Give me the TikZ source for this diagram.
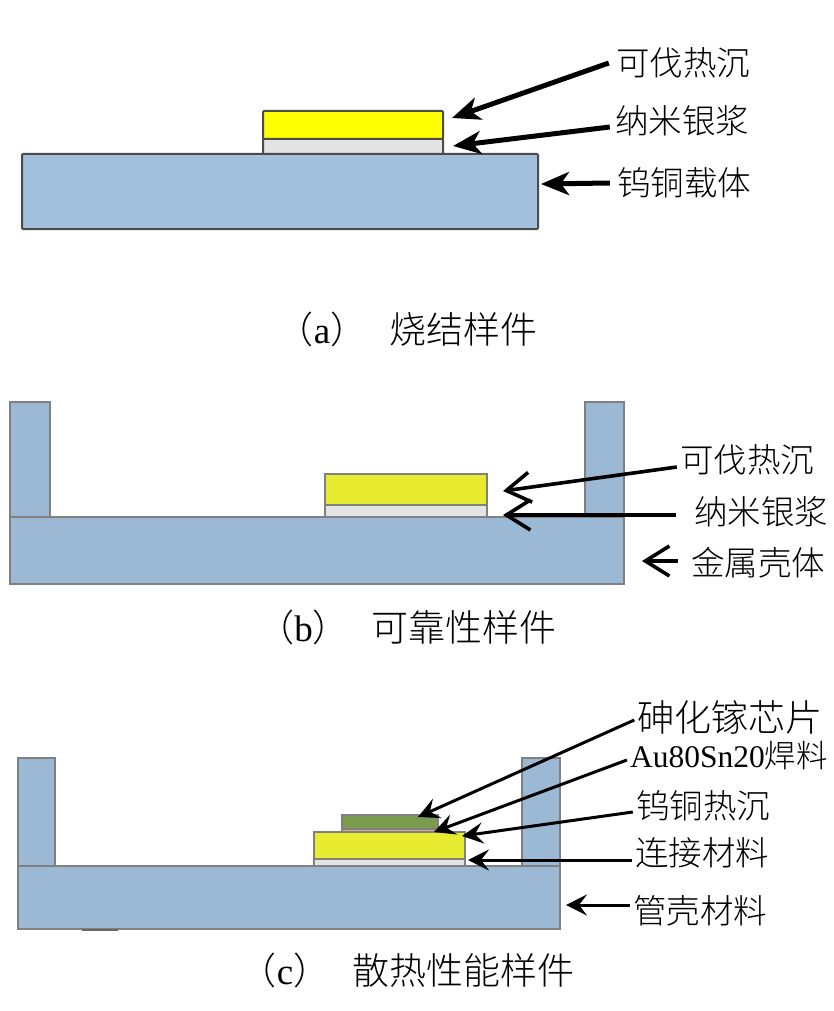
\documentclass[tikz,border=0pt]{standalone}
\usepackage{fontspec}
\usepackage{tikz}
\usetikzlibrary{arrows.meta,positioning}
\setmainfont{Liberation Serif}
\newfontfamily\cjk{Noto Sans CJK SC}[UprightFont=* Light]
\definecolor{carrierblue}{HTML}{A3C0DC}
\definecolor{shellblue}{HTML}{9BB8D4}
\definecolor{pureyellow}{HTML}{FFFF00}
\definecolor{softyellow}{HTML}{E8EC30}
\definecolor{pastegray}{HTML}{E4E4E4}
\definecolor{chipgreen}{HTML}{7A9C4E}
\definecolor{solderpink}{HTML}{E0A98C}
\tikzset{
  layerA/.style={draw=black!70,line width=2pt,rounded corners=1pt,inner sep=0pt},
  layerB/.style={draw=black!50,line width=1.2pt,inner sep=0pt},
  label/.style={font=\fontsize{33.5}{36}\selectfont\cjk,inner xsep=3pt,inner ysep=0pt},
  caption/.style={font=\fontsize{37}{40}\selectfont\cjk,inner sep=0pt},
  arrowA/.style={-{Stealth[length=28pt,width=23pt,inset=8pt]},line width=5pt},
  arrowB/.style={-{Straight Barb[length=24pt,width=30pt,line width=3.6pt]},line width=3.6pt},
  arrowC/.style={-{Stealth[length=21pt,width=21pt,inset=8pt]},line width=3pt}
}
\begin{document}
\begin{tikzpicture}[x=1pt,y=-1pt]
  \useasboundingbox (0,0) rectangle (834,1011);
  % (a)
  \node[layerA,fill=carrierblue,minimum width=516pt,minimum height=75pt] (carrierA) at (280,191.5) {};
  \node[layerA,fill=pastegray,minimum width=180pt,minimum height=15pt] (pasteA) at (353,146.5) {};
  \node[layerA,fill=pureyellow,minimum width=180pt,minimum height=28pt] (kovarA) at (353,125) {};
  \node[label] (lblKovarA) at (683,63) {可伐热沉};
  \node[label] (lblPasteA) at (682,121) {纳米银浆};
  \node[label] (lblCarrierA) at (684,183) {钨铜载体};
  \coordinate (tipKovarA) at (452,118);
  \coordinate (tipPasteA) at (453,146);
  \coordinate (tipCarrierA) at (541,184);
  \draw[arrowA] ([xshift=-4pt]lblKovarA.west) -- (tipKovarA);
  \draw[arrowA] ([xshift=-2pt,yshift=-6pt]lblPasteA.west) -- (tipPasteA);
  \draw[arrowA] ([xshift=-4pt]lblCarrierA.west) -- (tipCarrierA);
  \node[caption] (capA) at (407,329) {（{\rmfamily a}）\hspace{22pt}烧结样件};
  % (b)
  \node[layerB,fill=shellblue,minimum width=40pt,minimum height=115pt] (wallLB) at (30,459.5) {};
  \node[layerB,fill=shellblue,minimum width=39pt,minimum height=115pt] (wallRB) at (604.5,459.5) {};
  \node[layerB,fill=shellblue,minimum width=614pt,minimum height=67pt] (shellB) at (317,550.5) {};
  \node[layerB,fill=pastegray,minimum width=162pt,minimum height=12pt] (pasteB) at (406,511) {};
  \node[layerB,fill=softyellow,minimum width=162pt,minimum height=31pt] (kovarB) at (406,489.5) {};
  \node[label] (lblKovarB) at (747,460) {可伐热沉};
  \node[label] (lblPasteB) at (761,512) {纳米银浆};
  \node[label] (lblShellB) at (758,563) {金属壳体};
  \coordinate (tipKovarB) at (503,491);
  \coordinate (tipPasteB) at (503,515);
  \coordinate (tipShellB) at (642,561);
  \draw[arrowB] ([yshift=-7pt]lblKovarB.west) -- (tipKovarB);
  \draw[arrowB] ([xshift=-15pt,yshift=-3pt]lblPasteB.west) -- (tipPasteB);
  \draw[arrowB] ([xshift=-10pt,yshift=2pt]lblShellB.west) -- (tipShellB);
  \node[caption] (capB) at (407,627) {（{\rmfamily b}）\hspace{22pt}可靠性样件};
  % (c)
  \node[layerB,fill=shellblue,minimum width=37pt,minimum height=108pt] (wallLC) at (36.5,812) {};
  \node[layerB,fill=shellblue,minimum width=38pt,minimum height=108pt] (wallRC) at (541,812) {};
  \node[layerB,fill=shellblue,minimum width=542pt,minimum height=63pt] (shellC) at (289,897.5) {};
  \node[fill=black!60,inner sep=0pt,minimum width=36pt,minimum height=1.5pt] (markC) at (100,930) {};
  \node[layerB,fill=pastegray,minimum width=151pt,minimum height=7pt] (bondC) at (389.5,862.5) {};
  \node[layerB,fill=softyellow,minimum width=151pt,minimum height=27pt] (sinkC) at (389.5,845.5) {};
  \node[layerB,fill=solderpink,minimum width=96pt,minimum height=3pt] (solderC) at (390,830.5) {};
  \node[layerB,fill=chipgreen,minimum width=96pt,minimum height=14pt] (chipC) at (390,822) {};
  \node[label,font=\fontsize{37}{40}\selectfont\cjk] (lblChipC) at (730,717) {砷化镓芯片};
  \node[label,font=\fontsize{31.5}{36}\selectfont\cjk] (lblSolderC) at (729,756) {{\rmfamily Au80Sn20}焊料};
  \node[label] (lblSinkC) at (703,806) {钨铜热沉};
  \node[label] (lblBondC) at (702,853) {连接材料};
  \node[label] (lblShellC) at (700,911) {管壳材料};
  \coordinate (tipChipC) at (418,817);
  \coordinate (tipSolderC) at (434,832);
  \coordinate (tipSinkC) at (462,836);
  \coordinate (tipBondC) at (468,860);
  \coordinate (tipShellC) at (566,905);
  \draw[arrowC] ([yshift=-3pt]lblChipC.west) -- (tipChipC);
  \draw[arrowC] ([yshift=-4pt]lblSolderC.west) -- (tipSolderC);
  \draw[arrowC] ([yshift=-6pt]lblSinkC.west) -- (tipSinkC);
  \draw[arrowC] ([yshift=-7pt]lblBondC.west) -- (tipBondC);
  \draw[arrowC] ([yshift=6pt]lblShellC.west) -- (tipShellC);
  \node[caption] (capC) at (407,970) {（{\rmfamily c}）\hspace{22pt}散热性能样件};
\end{tikzpicture}
\end{document}
